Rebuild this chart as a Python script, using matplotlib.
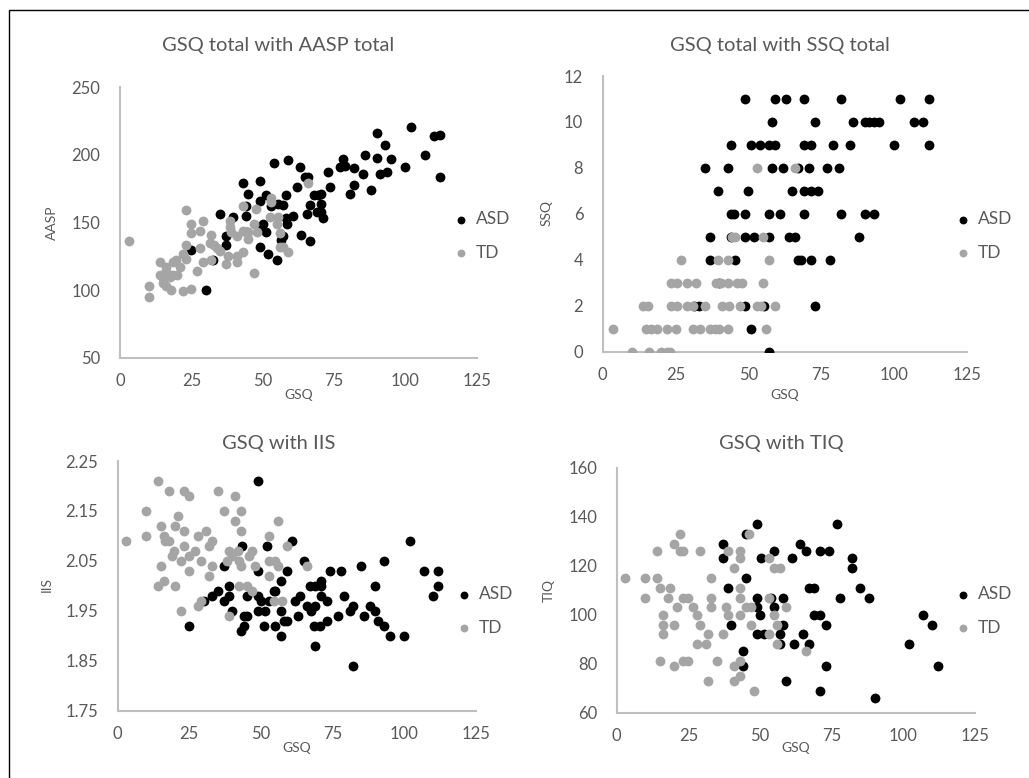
import matplotlib
matplotlib.use('Agg')
import matplotlib.pyplot as plt
import matplotlib.patches as patches

plt.rcParams['font.family'] = ['Lato', 'DejaVu Sans']

# --- GSQ total with AASP total ---
aasp_asd_gsq = [102, 90, 110, 112, 93, 86, 90, 95, 107, 78, 77, 79, 82, 85, 91, 93.5, 100, 112, 73, 73.5,
                82, 80.5, 88, 54, 59, 63, 65, 66, 49, 43, 62, 45, 51, 49, 53, 55.5, 57, 58, 68, 69.5,
                70.5, 66.5, 70.5, 69, 70.5, 71, 65.5, 60.5, 58, 58.5, 44, 44, 35, 39.5, 50, 49, 51, 37, 37, 57,
                56.5, 63.5, 66.5, 49, 52, 55, 25, 32.5, 30, 44.5]
aasp_asd = [221, 216, 214, 215, 207, 200, 198, 197, 200, 197, 191, 192, 190, 186, 186, 187, 191, 184, 187, 176,
            178, 171, 174, 194, 196, 191, 184, 184, 181, 179, 176, 171, 170, 166, 162, 164, 163, 170, 170, 170,
            171, 163, 164, 158, 158, 153, 156, 155, 153, 149, 162, 155, 156, 154, 149, 147, 143, 140, 133, 140,
            137, 141, 136, 132, 127, 122, 130, 122, 100, 143]
aasp_td_gsq = [3, 23, 25, 25, 29, 28, 32, 23, 28, 31.5, 33, 34, 35, 38.5, 38.5, 39, 41, 43, 47.5, 47,
               43, 45, 48, 45, 53, 53, 52.5, 55.5, 55, 56, 56, 57, 59, 66, 43, 41, 41, 38, 37, 32,
               29, 27, 47, 22, 23, 21, 19.5, 18.5, 20, 18.5, 17.5, 14, 16, 16, 14, 15, 15, 16, 18, 22,
               25, 10, 10]
aasp_td = [136, 159, 149, 142, 151, 144, 141, 133, 131, 135, 133, 131, 129, 151, 147, 143, 140, 162, 160, 149,
           144, 143, 143, 138, 168, 165, 154, 154, 149, 142, 132, 132, 128, 179, 128, 125, 121, 125, 119, 122,
           121, 114, 113, 127, 123, 117, 122, 121, 111, 111, 110, 121, 117, 114, 111, 109, 105, 103, 100, 99,
           101, 103, 95]

# --- GSQ total with SSQ total ---
ssq_asd_gsq = [49, 59, 63, 69, 82, 102, 112,
               58, 73, 86, 90, 91.5, 93, 95, 107, 110,
               44, 51, 54, 57, 59, 69, 71.5, 79, 85, 100, 112,
               35, 43, 58, 62, 67, 71, 77, 81,
               39.5, 50, 65, 69, 71.5, 74,
               44, 45, 49, 57, 61, 69, 82, 90, 93,
               37, 44, 49, 52, 57, 64, 66, 88,
               37, 45.5, 67, 68, 71.5, 78,
               40,
               31.5, 33, 49, 55.5, 73,
               51,
               57]
ssq_asd = [11, 11, 11, 11, 11, 11, 11,
           10, 10, 10, 10, 10, 10, 10, 10, 10,
           9, 9, 9, 9, 9, 9, 9, 9, 9, 9, 9,
           8, 8, 8, 8, 8, 8, 8, 8,
           7, 7, 7, 7, 7, 7,
           6, 6, 6, 6, 6, 6, 6, 6, 6,
           5, 5, 5, 5, 5, 5, 5, 5,
           4, 4, 4, 4, 4, 4,
           3,
           2, 2, 2, 2, 2,
           1,
           0]
ssq_td_gsq = [53, 66,
              44.5, 45.5, 55,
              27, 39.5, 43, 57,
              23.5, 25.5, 29, 32, 39, 40.5, 43, 46, 48, 55,
              14, 15.5, 23.5, 25.5, 29, 31, 35, 41, 43.5, 47, 53, 54.5, 59,
              3.5, 15, 16.5, 18.5, 22, 25, 31, 33.5, 37, 38.5, 40, 43, 56,
              10, 16, 20, 22, 23]
ssq_td = [8, 8,
          5, 5, 5,
          4, 4, 4, 4,
          3, 3, 3, 3, 3, 3, 3, 3, 3, 3,
          2, 2, 2, 2, 2, 2, 2, 2, 2, 2, 2, 2, 2,
          1, 1, 1, 1, 1, 1, 1, 1, 1, 1, 1, 1, 1,
          0, 0, 0, 0, 0]

# --- GSQ with IIS ---
iis_asd_gsq = [49, 61, 102, 52, 43.5, 65, 93, 37, 85, 49, 59, 74, 78, 107, 112, 57, 71, 39, 67, 69,
               71, 90, 112, 33, 39, 45, 49, 63.5, 71, 79, 110, 30, 35, 37, 50, 53, 54.5, 55, 62, 73,
               66, 69, 82, 88, 40, 49, 51.5, 57, 67.5, 81, 90, 44, 45, 63, 77, 86, 58, 59, 73, 91,
               25, 51, 55, 68.5, 70.5, 93, 43, 44, 57, 95, 100, 69, 82]
iis_asd = [2.21, 2.09, 2.09, 2.08, 2.08, 2.05, 2.05, 2.04, 2.04, 2.03, 2.03, 2.03, 2.03, 2.03, 2.03, 2.01, 2.01, 2.00, 2.00, 2.00,
           2.00, 2.00, 2.00, 1.98, 1.98, 1.98, 1.98, 1.98, 1.98, 1.98, 1.98, 1.97, 1.99, 1.97, 1.97, 1.97, 1.99, 1.99, 1.97, 1.97,
           1.96, 1.96, 1.96, 1.96, 1.95, 1.95, 1.95, 1.95, 1.95, 1.95, 1.95, 1.94, 1.94, 1.94, 1.94, 1.94, 1.93, 1.93, 1.93, 1.93,
           1.92, 1.92, 1.92, 1.92, 1.92, 1.92, 1.91, 1.92, 1.90, 1.90, 1.90, 1.88, 1.84]
iis_td_gsq = [14, 18, 23, 25, 35, 41, 10, 37, 43, 21, 41, 56, 15, 20, 23, 31, 43, 3, 10, 16,
              16.5, 18, 28, 53, 33, 23, 32, 59, 27, 19.5, 39, 42, 47, 25, 19, 46, 40, 22, 29, 38,
              42.5, 53, 55, 15, 33, 43, 48, 56, 66, 25, 32, 53, 16, 14, 20, 42.5, 45, 47, 29, 28,
              54.5, 57.5, 22, 39]
iis_td = [2.21, 2.19, 2.19, 2.18, 2.19, 2.18, 2.15, 2.15, 2.15, 2.14, 2.13, 2.13, 2.12, 2.12, 2.11, 2.11, 2.11, 2.09, 2.10, 2.10,
          2.09, 2.09, 2.10, 2.10, 2.09, 2.08, 2.08, 2.08, 2.07, 2.07, 2.07, 2.07, 2.07, 2.06, 2.06, 2.06, 2.06, 2.05, 2.05, 2.05,
          2.05, 2.05, 2.05, 2.04, 2.04, 2.04, 2.04, 2.04, 2.04, 2.03, 2.02, 2.02, 2.01, 2.00, 2.00, 2.00, 2.00, 1.99, 1.97, 1.96,
          1.97, 1.97, 1.95, 1.94]

# --- GSQ with TIQ ---
tiq_asd_gsq = [49, 77, 45, 37, 64, 55, 66, 71, 74, 37, 50.5, 61, 82, 82, 45, 39, 67, 69, 85, 49,
               54, 58, 78, 88, 49, 55, 50, 69, 71, 107, 40, 58, 73, 110, 49, 51.5, 57, 65, 57, 62,
               67, 102, 44, 44, 73, 112, 59, 71, 90]
tiq_asd = [137, 137, 133, 129, 129, 126, 126, 126, 126, 123, 123, 123, 123, 119, 115, 111, 111, 111, 111, 107,
           107, 107, 107, 107, 103, 103, 100, 100, 100, 100, 96, 96, 96, 96, 92, 92, 92, 92, 88, 88,
           88, 88, 85, 79, 79, 79, 73, 69, 66]
tiq_td_gsq = [3, 10, 14, 10, 15, 18.5, 14, 20, 22, 22, 23, 29, 18, 23, 25, 16, 16, 16, 21, 20,
              26.5, 28, 29, 33, 33, 33, 32, 28, 31, 37, 15, 20, 23, 25, 35, 32, 39, 41, 43, 43,
              43, 43, 38, 39, 43, 46, 45, 47, 47, 41, 43, 41, 43, 48, 53, 55, 57, 53, 55, 56,
              59, 53, 56, 66]
tiq_td = [115, 115, 115, 107, 111, 111, 126, 129, 133, 126, 126, 126, 107, 107, 107, 100, 96, 92, 103, 96,
          103, 100, 96, 115, 107, 103, 92, 88, 88, 92, 81, 79, 81, 81, 81, 73, 126, 119, 126, 123,
          111, 107, 103, 100, 100, 133, 103, 103, 96, 79, 81, 73, 75, 69, 123, 119, 119, 107, 100, 96,
          103, 92, 88, 85]

W, H = 1029, 778
TXT = '#595959'
ASD_C = '#000000'
TD_C = '#a5a5a5'

fig = plt.figure(figsize=(W / 100, H / 100), dpi=100)
fig.patch.set_facecolor('white')

# chart border (cut by the image on right and bottom)
fig.add_artist(patches.Rectangle((8.5 / W, -0.1), 1.2, 1 - 10 / H + 0.1, transform=fig.transFigure,
                                 fill=False, edgecolor='black', linewidth=1))


def painel(rect, asd_x, asd_y, td_x, td_y, ylim, yticks, ylabel, titulo, titulo_xy, ylab_xy, xlab_y, leg_xy):
    # rect e posições em pixels da imagem
    x0, y_top, x1, y_bot = rect
    ax = fig.add_axes([x0 / W, 1 - y_bot / H, (x1 - x0) / W, (y_bot - y_top) / H])
    ax.scatter(asd_x, asd_y, s=50, color=ASD_C, label='ASD', zorder=3, linewidths=0)
    ax.scatter(td_x, td_y, s=50, color=TD_C, label='TD', zorder=4, linewidths=0)
    ax.set_xlim(0, 125)
    ax.set_ylim(*ylim)
    ax.set_xticks([0, 25, 50, 75, 100, 125])
    ax.set_yticks(yticks)
    for s in ['top', 'right']:
        ax.spines[s].set_visible(False)
    for s in ['left', 'bottom']:
        ax.spines[s].set_color('#bfbfbf')
        ax.spines[s].set_linewidth(1.5)
    ax.tick_params(axis='both', length=0, labelsize=12, labelcolor=TXT)
    ax.tick_params(axis='x', pad=11)
    ax.tick_params(axis='y', pad=14)
    ax.set_xlabel('GSQ', fontsize=10, color=TXT, va='center')
    ax.xaxis.set_label_coords(0.5, (y_bot - xlab_y) / (y_bot - y_top))
    ax.set_ylabel(ylabel, fontsize=10, color=TXT, va='center')
    ax.yaxis.set_label_coords((ylab_xy[0] - x0) / (x1 - x0), (y_bot - ylab_xy[1]) / (y_bot - y_top))
    ax.set_facecolor('none')
    fig.text(titulo_xy[0] / W, 1 - titulo_xy[1] / H, titulo, fontsize=14.5, color=TXT, ha='center', va='center')
    ax.legend(loc='center left', bbox_to_anchor=(leg_xy[0] / W, 1 - leg_xy[1] / H), bbox_transform=fig.transFigure,
              frameon=False, fontsize=12.5, labelcolor=TXT, handlelength=0.5, handletextpad=0.6,
              borderpad=0, borderaxespad=0, labelspacing=1.0, markerscale=0.8)
    return ax


painel((120, 87.3, 476.7, 357.7), aasp_asd_gsq, aasp_asd, aasp_td_gsq, aasp_td, (50, 250),
       [50, 100, 150, 200, 250], 'AASP', 'GSQ total with AASP total', (278, 46), (51.7, 223), 395, (457, 236))
painel((602.7, 76, 966.7, 351.7), ssq_asd_gsq, ssq_asd, ssq_td_gsq, ssq_td, (0, 12),
       [0, 2, 4, 6, 8, 10, 12], 'SSQ', 'GSQ total with SSQ total', (780, 45), (546.7, 213), 395, (959, 236))
painel((117.7, 461, 475.7, 710.7), iis_asd_gsq, iis_asd, iis_td_gsq, iis_td, (1.75, 2.25),
       [1.75, 1.85, 1.95, 2.05, 2.15, 2.25], 'IIS', 'GSQ with IIS', (279, 444), (46.7, 585), 748, (460, 611))
painel((616.7, 467.7, 975, 712.7), tiq_asd_gsq, tiq_asd, tiq_td_gsq, tiq_td, (60, 160),
       [60, 80, 100, 120, 140, 160], 'TIQ', 'GSQ with TIQ', (781, 444), (549, 590), 748, (959, 611))

fig.savefig('out.png', dpi=100, facecolor='white')
